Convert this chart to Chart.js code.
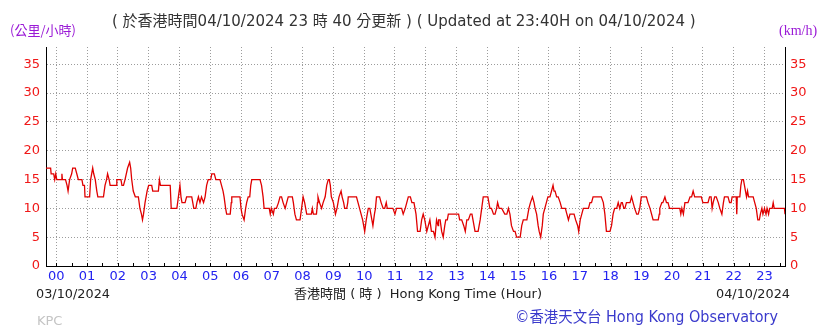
<!DOCTYPE html>
<html>
<head>
<meta charset="utf-8">
<script src="https://cdn.jsdelivr.net/npm/chart.js@4"></script>
<style>
  body{margin:0;background:#fff;}
  #wrap{width:838px;height:331px;position:relative;}
</style>
</head>
<body>
<div id="wrap"><canvas id="wind" width="838" height="331"></canvas></div>
<script>
// minutes from 00:00 on 04/10 (negative = late 03/10) and wind speed km/h
const minutes = [-20,-11,-10,-5,-3,-1,1,10,11,12,18,21,23,26,30,32,37,40,43,50,52,55,56,65,67,71,73,76,79,81,92,95,98,100,103,105,117,118,126,128,131,134,139,143,145,147,150,154,160,163,166,168,170,173,177,180,186,188,199,201,203,222,224,235,238,241,243,245,251,254,264,266,268,272,274,277,280,283,287,290,293,296,301,303,306,308,311,319,322,325,327,330,332,339,341,342,358,360,362,366,369,371,374,377,379,381,397,400,403,405,415,417,419,423,425,429,433,436,439,442,446,449,452,455,460,462,465,468,475,478,481,484,486,488,497,499,501,507,509,510,513,517,520,524,527,530,532,534,536,540,542,544,547,549,551,555,557,560,562,566,568,569,585,588,591,594,597,599,601,604,606,608,611,613,615,617,620,622,624,630,633,637,640,643,645,650,653,656,660,663,666,670,673,676,680,683,686,690,693,697,699,
  701,704,709,712,715,718,722,728,731,735,738,741,744,745,748,751,754,757,759,762,764,774,778,784,786,790,794,797,800,803,807,810,812,816,822,826,829,832,841,843,845,848,852,855,858,860,863,868,874,878,881,884,887,891,894,897,904,907,910,917,919,921,924,928,931,933,936,939,941,944,947,949,952,955,958,962,965,968,970,972,975,978,982,985,992,995,998,1001,1003,1009,1012,1016,1018,1021,1024,1027,1030,1037,1040,1043,1046,1050,1062,1066,1069,1072,1079,1082,1085,1088,1092,1095,1098,1101,1103,1106,1108,1111,1114,1118,1121,1124,1127,1131,1134,1137,1140,1150,1153,1157,1160,1163,1173,1175,1176,1180,1182,1186,1189,1192,1195,1215,1217,1219,1222,1225,1231,1235,1238,1241,1244,1257,1260,1264,1270,1273,1276,1278,1280,1283,1286,1290,1293,1297,1300,1302,1309,1312,1315,1317,1319,1323,1325,1326,1327,1330,1332,1334,1336,1339,1341,1343,1345,1347,1349,1355,1358,1361,1364,1367,1370,1372,1375,1377,1380,1383,1385,1388,1390,1395,1397,1399,1406,1419,1420];
const speeds = [17,17,16,16,15,16,15,15,16,15,15,14,13,15,16,17,17,16,15,15,14,14,12,12,15,17,16,15,13,12,12,14,15,16,15,14,14,15,15,14,14,15,17,18,17,15,13,12,12,10,9,8,9,11,13,14,14,13,13,15,14,14,10,10,12,14,12,11,11,12,12,11,10,10,11,12,11,12,11,12,14,15,15,16,16,16,15,15,14,13,12,10,9,9,11,12,12,10,9,8,10,11,12,12,14,15,15,14,12,10,10,9,10,9,10,10,11,12,12,11,10,11,12,12,12,11,9,8,8,10,12,11,10,9,9,10,9,9,11,12,11,10,11,12,14,15,15,14,12,11,10,9,10,11,12,13,12,11,10,10,11,12,12,11,10,9,8,7,6,8,9,10,10,9,8,7,9,10,12,12,11,10,10,11,10,10,10,10,9,10,10,10,10,9,10,11,12,12,11,11,10,
  9,6,6,8,9,8,6,8,6,6,5,8,7,8,8,6,5,7,8,8,9,9,9,9,8,8,7,6,8,8,9,9,8,6,6,8,10,12,12,11,10,10,9,9,10,11,10,10,9,9,10,9,7,6,6,5,5,7,8,8,9,10,11,12,11,10,9,7,6,5,7,9,10,11,12,12,13,14,13,13,12,12,11,10,10,9,8,9,9,9,8,7,6,8,9,10,10,10,11,11,12,12,12,11,9,6,6,7,9,10,10,11,10,11,11,10,10,11,11,11,12,11,10,9,9,10,12,12,11,10,9,8,8,9,10,11,11,12,11,11,10,10,9,10,9,11,11,12,12,13,12,12,11,11,11,12,12,10,11,12,12,11,10,9,11,12,12,11,11,12,12,12,12,9,12,12,12,14,15,15,14,13,12,13,12,12,12,11,10,8,8,9,10,9,10,9,10,9,10,10,11,10,10,10,9];
const hourLabels = ['00','01','02','03','04','05','06','07','08','09','10','11','12','13','14','15','16','17','18','19','20','21','22','23'];
const speedTicks = [0,5,10,15,20,25,30,35];

const points = minutes.map((m,i)=>({x:m,y:speeds[i]}))

// ticks every half hour, labels only on the hour
const halfHours = []
for(let m=0;m<=1410;m+=30) halfHours.push({value:m})

const fixY = (scale)=>{ scale.ticks = speedTicks.map(v=>({value:v})) }

// texts and small inner tick marks
const extras = {
  id:'extras',
  afterDraw(chart){
    const ctx = chart.ctx
    const area = chart.chartArea
    const xs = chart.scales.x
    ctx.save()
    ctx.strokeStyle='#000'
    ctx.lineWidth=1
    halfHours.forEach(t=>{
      const px = Math.round(xs.getPixelForValue(t.value))+0.5
      ctx.beginPath(); ctx.moveTo(px,area.bottom); ctx.lineTo(px,area.bottom-3); ctx.stroke()
    })
    ctx.textBaseline='middle'
    ctx.fillStyle='#9a1ad6'
    ctx.font='13px "Noto Sans CJK TC", "DejaVu Sans"'
    ctx.textAlign='left'
    ctx.fillText('(公里/小時)',10,30)
    ctx.font='14px "Liberation Serif"'
    ctx.fillText('(km/h)',779,31)
    ctx.fillStyle='#333'
    ctx.font='15px "DejaVu Sans", "Noto Sans CJK TC"'
    ctx.fillText('( 於香港時間04/10/2024 23 時 40 分更新 ) ( Updated at 23:40H on 04/10/2024 )',112,22,601)
    ctx.fillStyle='#222'
    ctx.font='13px "DejaVu Sans", "Noto Sans CJK TC"'
    ctx.fillText('03/10/2024',36,295,74)
    ctx.fillText('香港時間 ( 時 )  Hong Kong Time (Hour)',294,295,251)
    ctx.textAlign='right'
    ctx.fillText('04/10/2024',790,295,74)
    ctx.fillStyle='#3a3acc'
    ctx.font='15px "DejaVu Sans", "Noto Sans CJK TC"'
    ctx.fillText('©香港天文台 Hong Kong Observatory',778,318,263)
    ctx.textAlign='left'
    ctx.fillStyle='#c4c4c4'
    ctx.font='13px "DejaVu Sans"'
    ctx.fillText('KPC',37,322)
    ctx.restore()
  }
}

new Chart(document.getElementById('wind'),{
  type:'line',
  data:{datasets:[{data:points,borderColor:'#e00000',borderWidth:1.3,pointRadius:0,tension:0,fill:false}]},
  options:{
    responsive:false,
    animation:false,
    layout:{padding:{top:47,left:0,right:0,bottom:0}},
    plugins:{legend:{display:false},tooltip:{enabled:false}},
    scales:{
      x:{
        type:'linear',min:-20,max:1420,
        afterBuildTicks:(s)=>{ s.ticks = halfHours.map(t=>({value:t.value})) },
        afterFit:(s)=>{ s.height = 65 },
        grid:{drawTicks:false,color:(c)=> (c.tick && c.tick.value%60===0) ? '#9c9c9c' : 'rgba(0,0,0,0)'},
        border:{color:'#000',width:1,dash:[1,2]},
        ticks:{padding:3,color:'#2323f0',font:{size:13,family:'"DejaVu Sans"'},maxRotation:0,autoSkip:false,
          callback:(v)=> v%60===0 ? hourLabels[v/60] : ''}
      },
      y:{
        min:0,max:38,position:'left',
        afterBuildTicks:fixY,
        afterFit:(s)=>{ s.width = 46 },
        grid:{drawTicks:false,color:(c)=> (c.tick && c.tick.value>0) ? '#9c9c9c' : 'rgba(0,0,0,0)'},
        border:{color:'#000',width:1,dash:[1,2]},
        ticks:{padding:6,color:'#f01818',font:{size:13,family:'"DejaVu Sans"'}}
      },
      y2:{
        min:0,max:38,position:'right',
        afterBuildTicks:fixY,
        afterFit:(s)=>{ s.width = 53 },
        grid:{display:false,drawOnChartArea:false,drawTicks:false},
        border:{color:'#000',width:1},
        ticks:{padding:5,color:'#f01818',font:{size:13,family:'"DejaVu Sans"'}}
      }
    }
  },
  plugins:[extras]
})
</script>
</body>
</html>
